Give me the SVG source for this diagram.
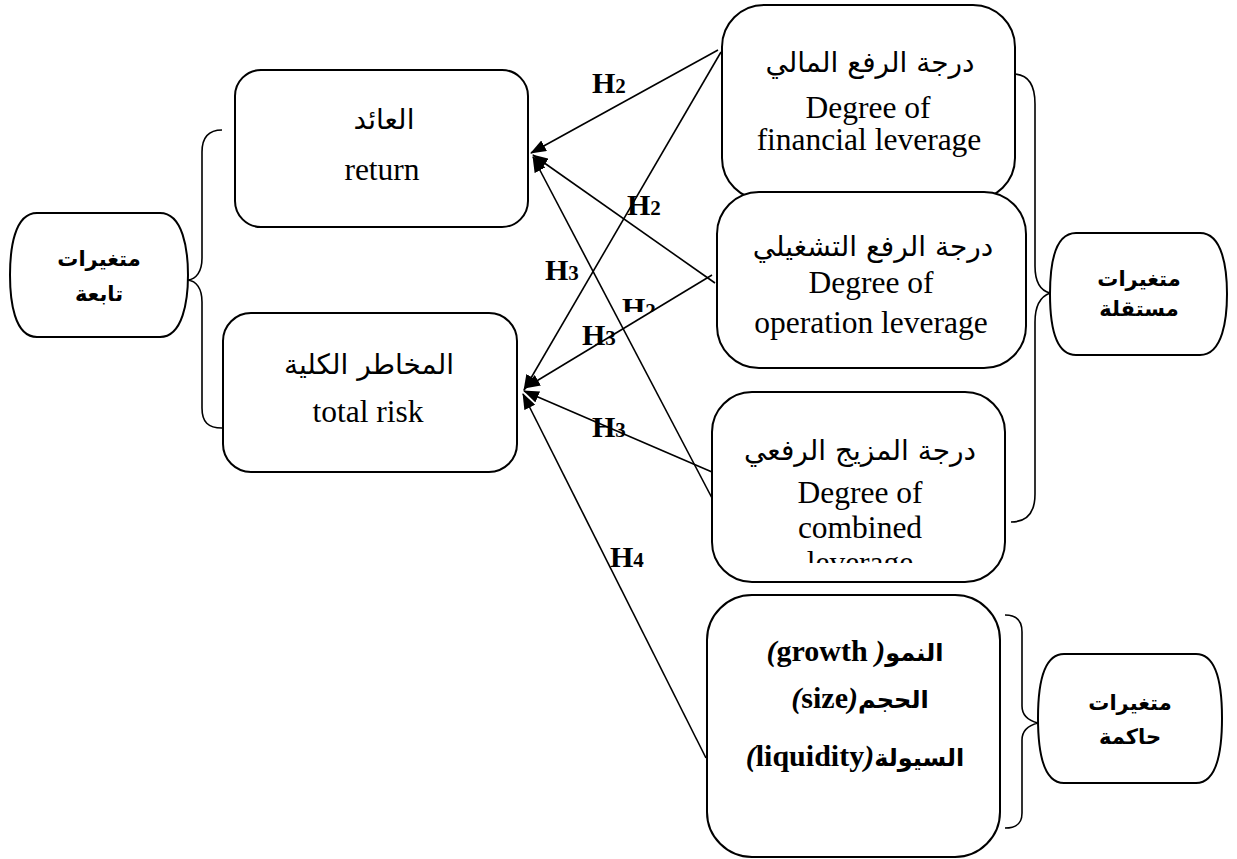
<svg xmlns="http://www.w3.org/2000/svg" width="1237" height="859" viewBox="0 0 1237 859">
<style>
.box{fill:#fff;stroke:#000;stroke-width:2}
.br{fill:none;stroke:#000;stroke-width:1.6}
.ln{fill:none;stroke:#000;stroke-width:1.6}
.en{font-family:"Liberation Serif","DejaVu Serif",serif;font-size:31.5px;fill:#000;text-anchor:middle}
.ar{font-family:"DejaVu Sans","Noto Sans",sans-serif;font-size:28px;fill:#000;text-anchor:middle}
.arb{font-family:"DejaVu Sans","Noto Sans",sans-serif;font-size:21px;font-weight:bold;fill:#000;text-anchor:middle}
.mix{font-family:"Liberation Serif","DejaVu Sans",serif;font-size:30px;font-weight:bold;fill:#000;text-anchor:middle}
.mar{font-family:"DejaVu Sans",sans-serif;font-size:24px}
.h{font-family:"Liberation Serif","DejaVu Serif",serif;font-size:30px;font-weight:bold;fill:#000}
.sub{font-size:21px}
</style>
<defs>
<marker id="ah" markerWidth="16" markerHeight="12" refX="15" refY="6" orient="auto" markerUnits="userSpaceOnUse">
<path d="M0,0 L16,6 L0,12 Z" fill="#000"/>
</marker>
<clipPath id="clipComb"><rect x="712" y="392" width="293" height="171"/></clipPath>
<clipPath id="clipH"><rect x="600" y="290" width="80" height="22"/></clipPath>
</defs>

<g id="connectors">
<line class="ln" x1="718" y1="50" x2="531" y2="153" marker-end="url(#ah)"/>
<line class="ln" x1="721" y1="52" x2="524" y2="390" marker-end="url(#ah)"/>
<line class="ln" x1="715" y1="283" x2="533" y2="155" marker-end="url(#ah)"/>
<line class="ln" x1="712" y1="275" x2="525" y2="388" marker-end="url(#ah)"/>
<line class="ln" x1="712" y1="472" x2="524" y2="391" marker-end="url(#ah)"/>
<line class="ln" x1="712" y1="498" x2="533" y2="157" marker-end="url(#ah)"/>
<line class="ln" x1="706" y1="758" x2="523" y2="394" marker-end="url(#ah)"/>
</g>

<g id="labels">
<text class="h" x="592" y="93">H<tspan class="sub">2</tspan></text>
<text class="h" x="627" y="215">H<tspan class="sub">2</tspan></text>
<text class="h" x="545" y="280">H<tspan class="sub">3</tspan></text>
<text class="h" x="622" y="318" clip-path="url(#clipH)">H<tspan class="sub">2</tspan></text>
<text class="h" x="582" y="345">H<tspan class="sub">3</tspan></text>
<text class="h" x="592" y="437">H<tspan class="sub">3</tspan></text>
<text class="h" x="610" y="567">H<tspan class="sub">4</tspan></text>
</g>

<g id="brace-dep">
<path class="br" d="M222,130 C208,130 202,138 202,152 V258 C202,272 196,279 188,280 C196,281 202,288 202,302 V408 C202,422 208,428 222,428"/>
</g>
<g id="brace-indep">
<path class="br" d="M1013,74 C1028,74 1035,84 1035,104 V266 C1035,284 1042,291 1050,293 C1042,296 1035,304 1035,322 V494 C1035,512 1028,522 1011,522"/>
</g>
<g id="brace-mod">
<path class="br" d="M1005,615 C1016,615 1022,620 1022,632 V706 C1022,717 1030,721 1038,723 C1030,725 1022,729 1022,740 V813 C1022,824 1016,828 1005,828"/>
</g>

<g id="node-dependent">
<path class="box" d="M37,213 H160 C183,213 188,250 188,275 C188,300 183,337 160,337 H37 C14,337 10,300 10,275 C10,250 14,213 37,213 Z"/>
<text class="arb" x="99" y="266">متغيرات</text>
<text class="arb" x="99" y="301">تابعة</text>
</g>

<g id="node-return">
<rect class="box" x="235" y="70" width="293" height="157" rx="26"/>
<text class="ar" x="384" y="129">العائد</text>
<text class="en" x="382" y="180">return</text>
</g>

<g id="node-risk">
<rect class="box" x="223" y="313" width="294" height="159" rx="28"/>
<text class="ar" x="369" y="374">المخاطر الكلية</text>
<text class="en" x="368" y="422">total risk</text>
</g>

<g id="node-financial">
<rect class="box" x="722" y="5" width="293" height="195" rx="42"/>
<text class="ar" x="870" y="72">درجة الرفع المالي</text>
<text class="en" x="868" y="118">Degree of</text>
<text class="en" x="869" y="150">financial leverage</text>
</g>

<g id="node-operation">
<rect class="box" x="717" y="192" width="309" height="176" rx="42"/>
<text class="ar" x="873" y="256">درجة الرفع التشغيلي</text>
<text class="en" x="871" y="293">Degree of</text>
<text class="en" x="871" y="333">operation leverage</text>
</g>

<g id="node-combined">
<rect class="box" x="712" y="392" width="293" height="190" rx="40"/>
<g clip-path="url(#clipComb)">
<text class="ar" x="860" y="460">درجة المزيج الرفعي</text>
<text class="en" x="860" y="503">Degree of</text>
<text class="en" x="860" y="538">combined</text>
<text class="en" x="860" y="573">leverage</text>
</g>
</g>

<g id="node-control">
<rect class="box" x="707" y="595" width="293" height="262" rx="45"/>
<text class="mix" x="855" y="661"><tspan font-style="italic">(</tspan>growth<tspan font-style="italic"> )</tspan><tspan class="mar">النمو</tspan></text>
<text class="mix" x="860" y="708"><tspan font-style="italic">(</tspan>size<tspan font-style="italic">)</tspan><tspan class="mar">الحجم</tspan></text>
<text class="mix" x="855" y="766"><tspan font-style="italic">(</tspan>liquidity<tspan font-style="italic">)</tspan><tspan class="mar">السيولة</tspan></text>
</g>

<g id="node-independent">
<path class="box" d="M1076,233 H1200 C1223,233 1227,270 1227,294 C1227,318 1223,355 1200,355 H1076 C1053,355 1050,318 1050,294 C1050,270 1053,233 1076,233 Z"/>
<text class="arb" x="1139" y="286">متغيرات</text>
<text class="arb" x="1139" y="316">مستقلة</text>
</g>

<g id="node-moderating">
<path class="box" d="M1064,654 H1196 C1219,654 1222,692 1222,718 C1222,744 1219,783 1196,783 H1064 C1041,783 1038,744 1038,718 C1038,692 1041,654 1064,654 Z"/>
<text class="arb" x="1130" y="710">متغيرات</text>
<text class="arb" x="1130" y="744">حاكمة</text>
</g>
</svg>
